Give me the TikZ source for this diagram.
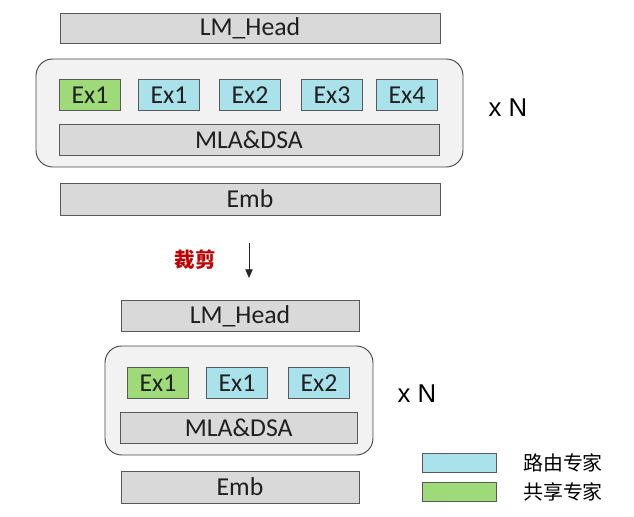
\documentclass[tikz,border=0pt]{standalone}
\usepackage{fontspec}
\setmainfont{Carlito}
\newfontfamily\arialf{Liberation Sans}
\newfontfamily\cjk{Noto Sans CJK SC}
\usetikzlibrary{arrows.meta}
\definecolor{boxgray}{HTML}{D9D9D9}
\definecolor{framegray}{HTML}{F2F2F2}
\definecolor{edgegray}{HTML}{595959}
\definecolor{routeblue}{HTML}{AAE2EB}
\definecolor{sharegreen}{HTML}{9FDA78}
\definecolor{cutred}{HTML}{C00000}
\definecolor{txtdark}{HTML}{1F1F1F}
\tikzset{
  layerbox/.style  = {draw=edgegray, fill=boxgray, line width=0.8pt, inner sep=0pt,
                      text=txtdark, font=\fontsize{22pt}{26pt}\selectfont},
  blockfrm/.style  = {draw=edgegray!80!black, fill=framegray, line width=0.8pt,
                      rounded corners=0.5cm, inner sep=0pt},
  expbox/.style    = {draw=edgegray, line width=0.8pt, inner sep=0pt,
                      minimum width=1.84cm, minimum height=0.94cm,
                      text=txtdark, font=\fontsize{22pt}{26pt}\selectfont},
  routed/.style    = {expbox, fill=routeblue},
  shared/.style    = {expbox, fill=sharegreen},
  repeatlbl/.style = {font=\arialf\fontsize{22pt}{26pt}\selectfont, inner sep=0pt},
  legtxt/.style    = {font=\cjk\fontsize{17pt}{20pt}\selectfont, anchor=west, inner sep=0pt},
  cutarr/.style    = {-{Triangle[length=2.6mm,width=2.2mm]}, line width=0.7pt, black!85}
}

\begin{document}
\begin{tikzpicture}[x=0.03cm,y=-0.03cm]
  \useasboundingbox (0,0) rectangle (634,517);

  % full model
  \node[layerbox, minimum width=11.4cm, minimum height=0.9cm] (headA) at (250,28) {LM\_Head};
  \node[blockfrm, minimum width=12.81cm, minimum height=3.24cm] (blkA) at (249.5,113) {};
  \node[shared] (sA)  at (90,95)  {Ex1};
  \node[routed] (rA1) at (169,95) {Ex1};
  \node[routed] (rA2) at (250,95) {Ex2};
  \node[routed] (rA3) at (332,95) {Ex3};
  \node[routed] (rA4) at (407,95) {Ex4};
  \node[layerbox, minimum width=11.4cm, minimum height=0.93cm] (attA) at (249,140) {MLA\&DSA};
  \node[layerbox, minimum width=11.4cm, minimum height=0.96cm] (embA) at (250,199) {Emb};
  \node[repeatlbl] (nA) at (508,108) {x N};

  % pruning step
  \coordinate (cutS) at (249,243);
  \coordinate (cutE) at (249,278);
  \draw[cutarr] (cutS) -- (cutE);
  \node[font=\cjk\bfseries\fontsize{17.5pt}{20pt}\selectfont, text=cutred, inner sep=0pt]
        (cut) at (195,260) {裁剪};

  % pruned model
  \node[layerbox, minimum width=7.14cm, minimum height=0.93cm] (headB) at (240,316) {LM\_Head};
  \node[blockfrm, minimum width=8.04cm, minimum height=3.27cm] (blkB) at (239,400.5) {};
  \node[shared] (sB)  at (158,383) {Ex1};
  \node[routed] (rB1) at (237,383) {Ex1};
  \node[routed] (rB2) at (319,383) {Ex2};
  \node[layerbox, minimum width=7.11cm, minimum height=0.93cm] (attB) at (238.7,428) {MLA\&DSA};
  \node[layerbox, minimum width=7.14cm, minimum height=0.96cm] (embB) at (240,487) {Emb};
  \node[repeatlbl] (nB) at (417,394) {x N};

  % legend
  \node[draw=edgegray, fill=routeblue, line width=0.8pt, minimum width=2.22cm,
        minimum height=0.55cm, inner sep=0pt] (legR) at (459,463) {};
  \node[draw=edgegray, fill=sharegreen, line width=0.8pt, minimum width=2.22cm,
        minimum height=0.56cm, inner sep=0pt] (legS) at (459,492) {};
  \node[legtxt] (legRt) at (523,463) {路由专家};
  \node[legtxt] (legSt) at (523,492) {共享专家};
\end{tikzpicture}
\end{document}
